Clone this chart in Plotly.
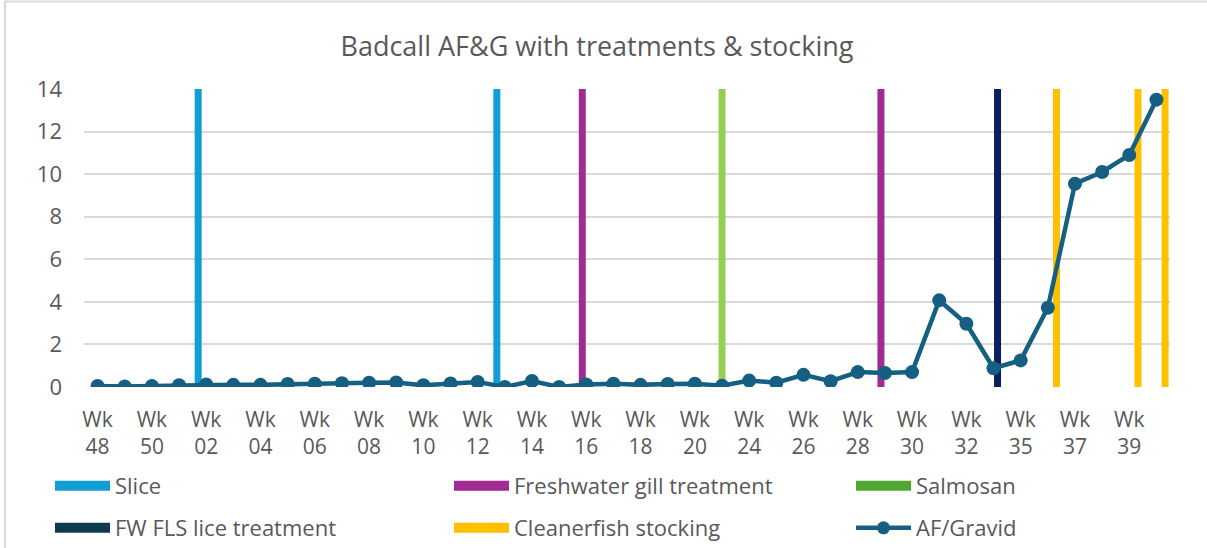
import plotly.graph_objects as go

# ---- data ----
weeks = ["Wk 48", "Wk 49", "Wk 50", "Wk 51", "Wk 02", "Wk 03", "Wk 04", "Wk 05",
         "Wk 06", "Wk 07", "Wk 08", "Wk 09", "Wk 10", "Wk 11", "Wk 12", "Wk 13",
         "Wk 14", "Wk 15", "Wk 16", "Wk 17", "Wk 18", "Wk 19", "Wk 20", "Wk 22",
         "Wk 24", "Wk 25", "Wk 26", "Wk 27", "Wk 28", "Wk 29", "Wk 30", "Wk 31",
         "Wk 32", "Wk 34", "Wk 35", "Wk 36", "Wk 37", "Wk 38", "Wk 39", "Wk 40"]
af_gravid = [0.05, 0.02, 0.05, 0.08, 0.12, 0.10, 0.10, 0.14,
             0.15, 0.18, 0.20, 0.21, 0.08, 0.17, 0.24, 0.00,
             0.28, 0.00, 0.12, 0.15, 0.10, 0.14, 0.15, 0.06,
             0.30, 0.20, 0.57, 0.27, 0.70, 0.66, 0.70, 4.07,
             2.97, 0.88, 1.25, 3.72, 9.55, 10.10, 10.90, 13.50]
slice_weeks = ["Wk 02", "Wk 13"]
gill_weeks = ["Wk 16", "Wk 29"]
salmosan_weeks = ["Wk 22"]
fls_weeks = ["Wk 34"]
cleaner_weeks = ["Wk 36", "Wk 39", "Wk 40"]
event_value = 14
tick_weeks = weeks[::2]
tick_text = [w.replace(" ", "<br>") for w in tick_weeks]

# ---- geometry helpers (pixels -> paper) ----
L, R, T, B = 84, 37, 89, 161
W, H = 1207, 548
pw, ph = W - L - R, H - T - B
def px_x(x):
    return (x - L) / pw
def px_y(y):
    return (H - B - y) / ph

cat_px = pw / len(weeks)
bar_w = 7 / cat_px

FONT = "Open Sans, Lato, sans-serif"
GREY = "#595959"

fig = go.Figure()

bar_specs = [
    ("Slice", slice_weeks, "#0F9ED5", "#0F9ED5", -8.0),
    ("Freshwater gill treatment", gill_weeks, "#A02B93", "#A02B93", -4.0),
    ("Salmosan", salmosan_weeks, "#92D050", "#4EA72E", 0.0),
    ("FW FLS lice treatment", fls_weeks, "#0B1F5E", "#0E3A4F", 4.0),
    ("Cleanerfish stocking", cleaner_weeks, "#FFC000", "#FFC000", 8.7),
]
for name, wk, col, _, off in bar_specs:
    fig.add_trace(go.Bar(
        x=wk, y=[event_value] * len(wk), name=name, marker_color=col,
        marker_line_width=0, width=bar_w, offset=off / cat_px - bar_w / 2,
        showlegend=False, hoverinfo="x+name"))

fig.add_trace(go.Scatter(
    x=weeks, y=af_gravid, name="AF/Gravid", mode="lines+markers",
    line=dict(color="#156082", width=4.5), marker=dict(size=14, color="#156082"),
    showlegend=False))

# legend entries placed like Excel's 3-column legend
legend_pos = [(57, 486), (456, 486), (858, 486), (57, 528), (456, 528), (858, 528)]
layout_legends = {}
for i, (name, wk, _, lcol, _) in enumerate(bar_specs + [("AF/Gravid", None, None, "#156082", None)]):
    key = "legend" if i == 0 else f"legend{i+1}"
    if name == "AF/Gravid":
        fig.add_trace(go.Scatter(x=[None], y=[None], name=name, mode="lines+markers",
                                 line=dict(color=lcol, width=4.5),
                                 marker=dict(size=13, color=lcol), legend=key))
    else:
        fig.add_trace(go.Scatter(x=[None], y=[None], name=name, mode="lines",
                                 line=dict(color=lcol, width=13), legend=key))
    lx, ly = legend_pos[i]
    layout_legends[key] = dict(
        x=px_x(lx - 7), y=px_y(ly), xanchor="left", yanchor="middle",
        bgcolor="rgba(0,0,0,0)", itemwidth=55,
        font=dict(family=FONT, size=22, color=GREY))

fig.update_layout(
    width=W, height=H, barmode="overlay",
    margin=dict(l=L, r=R, t=T, b=B, autoexpand=False),
    paper_bgcolor="white", plot_bgcolor="white",
    title=dict(text="Badcall AF&G with treatments & stocking", x=px_x(597), xref="paper",
               xanchor="center", y=1 - 47 / H, yanchor="middle",
               font=dict(family=FONT, size=27, color=GREY)),
    xaxis=dict(type="category", categoryorder="array", categoryarray=weeks,
               range=[-0.5, len(weeks) - 0.5], tickmode="array",
               tickvals=tick_weeks, ticktext=tick_text, tickangle=0,
               showgrid=False, showline=False, zeroline=False, ticks="",
               tickfont=dict(family=FONT, size=21, color=GREY),
               ticklabelstandoff=18),
    yaxis=dict(range=[0, 14], dtick=2, showgrid=True, gridcolor="#D9D9D9", gridwidth=2,
               zeroline=False, showline=False, ticks="",
               tickfont=dict(family=FONT, size=22, color=GREY),
               ticklabelstandoff=21),
    showlegend=True,
    shapes=[dict(type="rect", xref="paper", yref="paper",
                 x0=px_x(5), x1=px_x(1240), y0=px_y(600), y1=px_y(1.5),
                 line=dict(color="#D9D9D9", width=2), fillcolor="rgba(0,0,0,0)",
                 layer="below")],
    **layout_legends,
)

fig.write_html("out.html", config={"displayModeBar": False},
               post_script="document.body.style.margin='0';document.body.style.padding='0';"
                           "document.body.style.overflow='hidden';")
